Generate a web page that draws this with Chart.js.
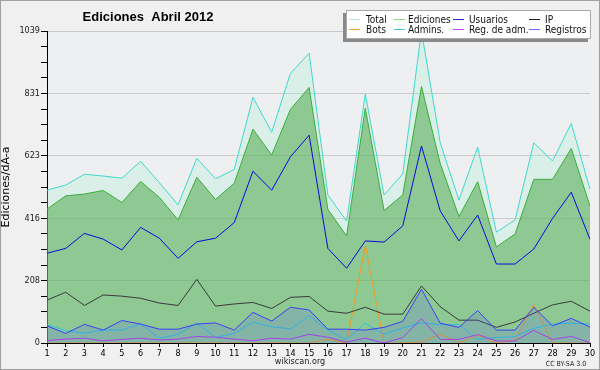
<!DOCTYPE html>
<html>
<head>
<meta charset="utf-8">
<script src="https://cdn.jsdelivr.net/npm/chart.js@4"></script>
<style>
  html, body { margin: 0; padding: 0; background: #f0f0f0; }
  #wrap { width: 600px; height: 370px; }
</style>
</head>
<body>
<div id="wrap"><canvas id="editchart" width="600" height="370"></canvas></div>
<script>
var days = [];
for (var d = 1; d <= 30; d++) days.push(String(d));

var total = [509, 526, 562, 556, 549, 605, 534, 460, 615, 547, 578, 818, 702, 898, 965,
             493, 406, 829, 493, 563, 1039, 667, 476, 652, 369, 410, 667, 606, 731, 512];
var ediciones = [446, 490, 496, 508, 468, 538, 485, 410, 552, 478, 532, 712, 626, 778, 851,
                 445, 356, 782, 441, 493, 854, 598, 421, 537, 320, 363, 545, 545, 648, 456];
var usuarios = [299, 315, 365, 346, 310, 385, 349, 282, 337, 349, 401, 572, 509, 620, 692,
                315, 249, 340, 336, 390, 656, 440, 340, 426, 263, 263, 313, 415, 502, 345];
var ip = [143, 169, 125, 160, 156, 149, 133, 125, 212, 123, 130, 135, 115, 152, 155,
          106, 99, 119, 96, 96, 190, 121, 76, 76, 52, 70, 99, 127, 139, 106];
var bots = [0, 0, 0, 0, 0, 0, 0, 0, 0, 0, 0, 0, 0, 0, 0,
            12, 0, 325, 0, 0, 3, 29, 0, 26, 0, 10, 127, 0, 0, 0];
var admins = [61, 41, 33, 43, 43, 63, 16, 29, 66, 19, 32, 70, 54, 47, 90,
              43, 10, 66, 29, 50, 68, 61, 61, 12, 18, 21, 49, 63, 66, 63];
var regAdm = [8, 13, 16, 7, 12, 16, 10, 13, 22, 19, 13, 7, 16, 13, 29,
              19, 3, 16, 0, 18, 81, 12, 12, 28, 7, 7, 42, 12, 22, 1];
var registros = [57, 32, 62, 43, 75, 63, 46, 46, 63, 67, 43, 102, 73, 119, 110,
                 46, 46, 43, 52, 72, 179, 66, 52, 108, 43, 43, 119, 57, 82, 53];

var yMax = 1039;
var font = "'DejaVu Sans Condensed', 'DejaVu Sans', sans-serif";

function line(label, data, color, legendColor, order, fill, bg) {
    return {
        label: label,
        data: data,
        borderColor: color,
        legendColor: legendColor,
        backgroundColor: bg || 'transparent',
        fill: fill || false,
        borderWidth: 1,
        pointRadius: 0,
        tension: 0,
        order: order
    };
}

var framePlugin = {
    id: 'frame',
    beforeDraw: function (chart) {
        var c = chart.ctx, a = chart.chartArea;
        c.save();
        c.fillStyle = '#f0f0f0';
        c.fillRect(0, 0, chart.width, chart.height);
        c.fillStyle = '#eeeff1';
        c.fillRect(a.left, a.top, a.right - a.left, a.bottom - a.top);
        c.strokeStyle = '#a0a0a0';
        c.lineWidth = 1;
        c.strokeRect(0.5, 0.5, chart.width - 1, chart.height - 1);
        c.restore();
    },
    afterDraw: function (chart) {
        var c = chart.ctx;
        c.save();
        // title
        c.fillStyle = '#000';
        c.font = "bold 13px 'Liberation Sans', Arial, sans-serif";
        c.textAlign = 'center';
        c.textBaseline = 'middle';
        c.fillText('Ediciones  Abril 2012', 148, 17);
        // footer
        c.font = "9px " + font;
        c.fillStyle = '#222';
        c.fillText('wikiscan.org', 300, 362);
        c.font = "7px " + font;
        c.fillText('CC BY-SA 3.0', 566, 364);
        // legend
        c.fillStyle = '#8a8a8a';
        c.fillRect(343, 13, 245, 29);
        c.fillStyle = '#fff';
        c.fillRect(346, 10, 245, 29);
        c.strokeStyle = '#aaa';
        c.strokeRect(346.5, 10.5, 244, 28);
        var mx = [349, 394, 453, 529];
        var tx = [366, 408, 469, 545];
        var rows = [19.5, 29.5];
        c.font = "10px " + font;
        c.textAlign = 'left';
        chart.data.datasets.forEach(function (ds, i) {
            var col = i % 4, row = Math.floor(i / 4);
            c.strokeStyle = ds.legendColor;
            c.beginPath();
            c.moveTo(mx[col], rows[row]);
            c.lineTo(mx[col] + 11, rows[row]);
            c.stroke();
            c.fillStyle = '#111';
            c.fillText(ds.label, tx[col], rows[row] + 0.5);
        });
        c.restore();
    }
};

var ctx = document.getElementById('editchart').getContext('2d');
var chart = new Chart(ctx, {
    type: 'line',
    data: {
        labels: days,
        datasets: [
            line('Total', total, '#3fd9cc', '#a8ece4', 9, 'origin', 'rgba(176,240,215,0.3)'),
            line('Ediciones', ediciones, '#3aae3a', '#8fd08f', 8, 'origin', 'rgba(66,162,62,0.5)'),
            line('Usuarios', usuarios, '#0a0add', '#2a2acc', 2, false),
            line('IP', ip, '#3a3a3a', '#222222', 3, false),
            line('Bots', bots, '#f39a1e', '#f5a030', 6, false),
            line('Admins.', admins, '#29c4e0', '#3cc8e0', 5, false),
            line('Reg. de adm.', regAdm, '#b43ce6', '#cc44ee', 4, false),
            line('Registros', registros, '#3e3ef8', '#6b6bff', 1, 'origin', 'rgba(90,90,255,0.18)')
        ]
    },
    options: {
        responsive: false,
        animation: false,
        layout: { padding: { top: 31, right: 10, left: 0, bottom: 0 } },
        plugins: {
            legend: { display: false },
            title: { display: false },
            tooltip: { enabled: false }
        },
        scales: {
            x: {
                offset: false,
                afterFit: function (s) { s.height = 27; },
                grid: { drawOnChartArea: false, tickLength: 4, color: '#000' },
                border: { color: '#000', width: 1 },
                ticks: { color: '#000', font: { family: font, size: 9 }, padding: 1, maxRotation: 0, autoSkip: false }
            },
            y: {
                min: 0,
                max: yMax,
                afterFit: function (s) { s.width = 47; },
                afterBuildTicks: function (s) {
                    var t = [];
                    for (var i = 0; i <= 20; i++) t.push({ value: yMax * i / 20 });
                    s.ticks = t;
                },
                grid: {
                    tickLength: 6,
                    color: function (c) { return c.index % 4 === 0 && c.index > 0 ? 'rgba(170,170,170,0.55)' : 'transparent'; },
                    tickColor: '#000'
                },
                border: { color: '#000', width: 1 },
                ticks: {
                    color: '#222',
                    padding: 1,
                    font: { family: font, size: 9 },
                    autoSkip: false,
                    callback: function (v, i) { return i % 4 === 0 ? String(Math.round(v)) : ''; }
                },
                title: {
                    display: true,
                    text: 'Ediciones/dÃ-a',
                    color: '#000',
                    font: { family: "'DejaVu Sans', sans-serif", size: 11 },
                    padding: { top: 0, bottom: 2 }
                }
            }
        }
    },
    plugins: [framePlugin]
});
</script>
</body>
</html>
